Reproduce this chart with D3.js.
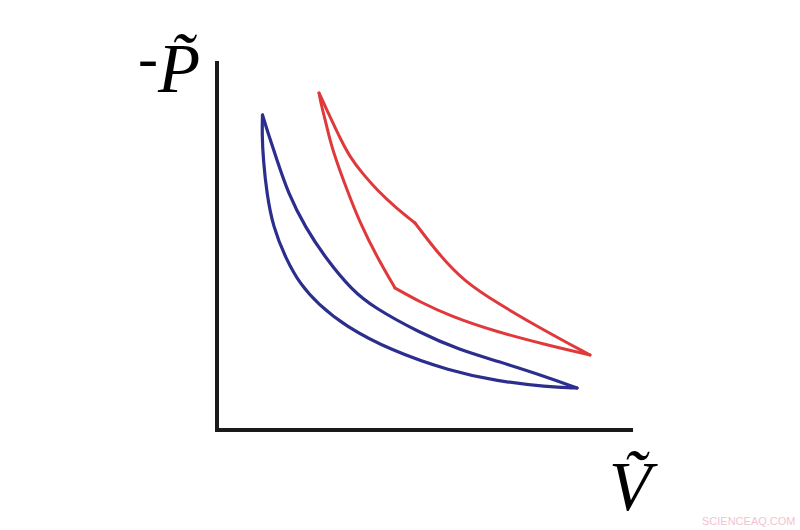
<!DOCTYPE html>
<html>
<head>
<meta charset="utf-8">
<script src="https://cdn.jsdelivr.net/npm/d3@7"></script>
<style>
  body { margin: 0; background: #fff; }
  svg { display: block; }
</style>
</head>
<body>
<script>
// loop data, V along x and -P along y (arbitrary units 0..10)
// blue: upper branch from the top tip down to the right tip
var blueUpperV = [1.094, 1.226, 1.442, 1.707, 2.115, 2.644, 3.245, 3.750, 4.880, 5.841, 6.731, 7.933, 8.654];
var blueUpperP = [8.560, 8.071, 7.337, 6.440, 5.516, 4.620, 3.804, 3.342, 2.636, 2.174, 1.875, 1.440, 1.141];
// blue: lower branch, same tips
var blueLowerV = [1.094, 1.082, 1.113, 1.195, 1.346, 1.659, 1.995, 2.428, 3.077, 4.159, 5.601, 6.731, 7.933, 8.654];
var blueLowerP = [8.560, 8.016, 7.337, 6.440, 5.516, 4.647, 3.967, 3.424, 2.826, 2.174, 1.603, 1.332, 1.168, 1.141];

var redUpperV = [2.452, 2.620, 2.788, 2.981, 3.197, 3.486, 3.846, 4.279, 4.760, 5.361, 5.962, 6.731, 7.933, 8.966];
var redUpperP = [9.158, 8.750, 8.342, 7.880, 7.418, 6.984, 6.522, 6.060, 5.625, 4.728, 4.022, 3.451, 2.663, 2.038];
var redLowerV = [2.452, 2.524, 2.620, 2.716, 2.837, 3.125, 3.438, 3.846, 4.279, 4.880, 5.601, 6.731, 7.933, 8.966];
var redLowerP = [9.158, 8.750, 8.342, 7.880, 7.418, 6.522, 5.625, 4.701, 3.859, 3.478, 3.098, 2.663, 2.310, 2.038];
var redUpperKink = 8;
var redLowerKink = 8;

var xLabel = "V\u0303", yLabel = "P\u0303";

var W = 800, H = 530;
var svg = d3.select('body').append('svg')
    .attr('width', W)
    .attr('height', H);

var xScale = d3.scaleLinear().domain([0, 10]).range([217, 633]);
var yScale = d3.scaleLinear().domain([0, 10]).range([430, 62]);

var line = d3.line()
    .x(function(d){ return xScale(d[0]); })
    .y(function(d){ return yScale(d[1]); })
    .curve(d3.curveBasis);

function pairs(vs, ps){
    return vs.map(function(v, i){ return [v, ps[i]]; });
}

// axes (plain lines, no ticks)
svg.append('line')
    .attr('x1', xScale(0)).attr('y1', yScale(10) - 1)
    .attr('x2', xScale(0)).attr('y2', yScale(0) + 2)
    .attr('stroke', '#1a1a1a').attr('stroke-width', 4);
svg.append('line')
    .attr('x1', xScale(0) - 2).attr('y1', yScale(0))
    .attr('x2', xScale(10)).attr('y2', yScale(0))
    .attr('stroke', '#1a1a1a').attr('stroke-width', 4);

// blue loop: two smooth branches meeting at the tips
svg.selectAll('.blue')
    .data([pairs(blueUpperV, blueUpperP), pairs(blueLowerV, blueLowerP)])
    .enter().append('path')
    .attr('class', 'blue')
    .attr('d', line)
    .attr('fill', 'none')
    .attr('stroke', '#2b2e8c')
    .attr('stroke-width', 3.2)
    .attr('stroke-linecap', 'round');

// red loop, two branches each with a kink
var up = pairs(redUpperV, redUpperP), lo = pairs(redLowerV, redLowerP);
var redSegs = [up.slice(0, redUpperKink + 1), up.slice(redUpperKink),
               lo.slice(0, redLowerKink + 1), lo.slice(redLowerKink)];
svg.selectAll('.red')
    .data(redSegs)
    .enter().append('path')
    .attr('class', 'red')
    .attr('d', line)
    .attr('fill', 'none')
    .attr('stroke', '#e0393c')
    .attr('stroke-width', 3)
    .attr('stroke-linecap', 'round');

// axis labels
var serif = "'Liberation Serif', 'DejaVu Serif', serif";
svg.append('text')
    .attr('x', 138).attr('y', 78)
    .style('font-family', serif).style('font-size', '60px')
    .text('-');
svg.append('text')
    .attr('x', 158).attr('y', 92)
    .style('font-family', serif).style('font-size', '69px').style('font-style', 'italic')
    .text(yLabel);
svg.append('text')
    .attr('x', 609).attr('y', 510)
    .style('font-family', serif).style('font-size', '69px').style('font-style', 'italic')
    .text(xLabel);

// watermark
svg.append('text')
    .attr('x', 702).attr('y', 525)
    .style('font-family', "'Liberation Sans', Arial, sans-serif")
    .style('font-size', '11px')
    .style('fill', '#f2c3cf')
    .text('SCIENCEAQ.COM');
</script>
</body>
</html>
